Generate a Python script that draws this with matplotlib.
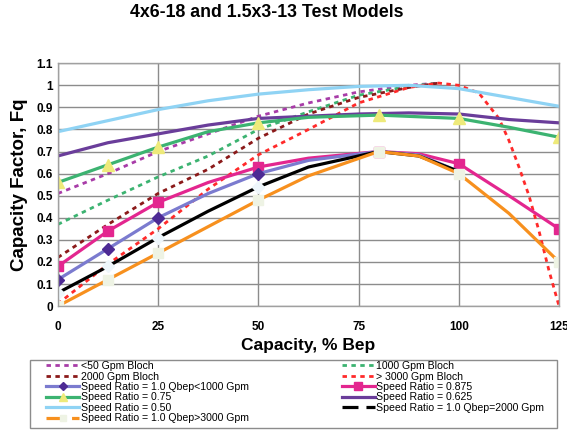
import matplotlib
matplotlib.use("Agg")
import matplotlib.pyplot as plt
from matplotlib.lines import Line2D
from matplotlib.patches import Rectangle

plt.rcParams['font.family'] = ['Liberation Sans', 'DejaVu Sans']

title = "4x6-18 and 1.5x3-13 Test Models"
x_label = "Capacity, % Bep"
y_label = "Capacity Factor, Fq"
x_ticks = [0, 25, 50, 75, 100, 125]
y_ticks = [0, 0.1, 0.2, 0.3, 0.4, 0.5, 0.6, 0.7, 0.8, 0.9, 1.0, 1.1]
y_tick_labels = ["0", "0.1", "0.2", "0.3", "0.4", "0.5", "0.6", "0.7", "0.8", "0.9", "1", "1.1"]

# Bloch curves
bloch_lt50_x = [0, 12.5, 25, 37.5, 50, 62.5, 75, 87.5, 95]
bloch_lt50_y = [0.51, 0.60, 0.70, 0.78, 0.86, 0.92, 0.97, 1.0, 1.01]
bloch_1000_x = [0, 12.5, 25, 37.5, 50, 62.5, 75, 87.5, 95]
bloch_1000_y = [0.37, 0.48, 0.585, 0.68, 0.80, 0.88, 0.955, 0.995, 1.01]
bloch_2000_x = [0, 12.5, 25, 37.5, 50, 62.5, 75, 87.5, 95]
bloch_2000_y = [0.22, 0.37, 0.51, 0.62, 0.76, 0.87, 0.945, 0.99, 1.01]
bloch_gt3000_x = [0, 12.5, 25, 37.5, 50, 62.5, 75, 87.5, 95, 100, 105, 110, 112.5, 115, 117.5, 120, 122.5, 125]
bloch_gt3000_y = [0.01, 0.19, 0.35, 0.53, 0.685, 0.80, 0.92, 0.99, 1.01, 1.0, 0.965, 0.85, 0.75, 0.63, 0.50, 0.34, 0.16, 0.0]

# Speed ratio curves
sr100_lt1000_x = [0, 12.5, 25, 37.5, 50, 62.5, 80, 90, 100]
sr100_lt1000_y = [0.12, 0.26, 0.40, 0.51, 0.60, 0.66, 0.70, 0.685, 0.61]
sr100_lt1000_marks = [0, 1, 2, 4]

sr0875_x = [0, 12.5, 25, 37.5, 50, 62.5, 80, 90, 100, 112.5, 125]
sr0875_y = [0.18, 0.34, 0.47, 0.56, 0.63, 0.67, 0.70, 0.69, 0.645, 0.50, 0.35]
sr0875_marks = [0, 1, 2, 4, 6, 8, 10]

sr075_x = [0, 12.5, 25, 37.5, 50, 62.5, 80, 100, 112.5, 125]
sr075_y = [0.56, 0.64, 0.72, 0.79, 0.83, 0.855, 0.865, 0.85, 0.81, 0.765]
sr075_marks = [0, 1, 2, 4, 6, 7, 9]

sr0625_x = [0, 12.5, 25, 37.5, 50, 62.5, 75, 87.5, 100, 112.5, 125]
sr0625_y = [0.68, 0.74, 0.78, 0.82, 0.85, 0.86, 0.87, 0.875, 0.87, 0.845, 0.83]

sr050_x = [0, 12.5, 25, 37.5, 50, 62.5, 75, 87.5, 100, 112.5, 125]
sr050_y = [0.79, 0.84, 0.89, 0.93, 0.96, 0.98, 0.995, 1.0, 0.985, 0.945, 0.905]

sr100_2000_x = [0, 12.5, 25, 37.5, 50, 62.5, 80, 90, 100]
sr100_2000_y = [0.06, 0.18, 0.31, 0.43, 0.54, 0.63, 0.70, 0.68, 0.61]
sr100_2000_marks = [0, 1, 2, 4]

sr100_gt3000_x = [0, 12.5, 25, 37.5, 50, 62.5, 80, 90, 100, 112.5, 125]
sr100_gt3000_y = [0.0, 0.12, 0.24, 0.36, 0.48, 0.59, 0.70, 0.68, 0.60, 0.42, 0.20]
sr100_gt3000_marks = [0, 1, 2, 4, 6, 8, 10]

fig = plt.figure(figsize=(5.67, 4.33), dpi=100)
ax = fig.add_axes([0.102, 0.293, 0.884, 0.561])

dot = (0, (1.6, 1.6))
lw = 2.0

h = {}
h['lt50'], = ax.plot(bloch_lt50_x, bloch_lt50_y, color='#a83ca8', lw=lw, ls=dot, label='<50 Gpm Bloch')
h['b1000'], = ax.plot(bloch_1000_x, bloch_1000_y, color='#3cb371', lw=lw, ls=dot, label='1000 Gpm Bloch')
h['b2000'], = ax.plot(bloch_2000_x, bloch_2000_y, color='#8b1a1a', lw=lw, ls=dot, label='2000 Gpm Bloch')
h['b3000'], = ax.plot(bloch_gt3000_x, bloch_gt3000_y, color='#ff2a2a', lw=lw, ls=dot, label='> 3000 Gpm Bloch')

h['sr050'], = ax.plot(sr050_x, sr050_y, color='#8fd3f4', lw=2.3, label='Speed Ratio = 0.50')
h['sr0625'], = ax.plot(sr0625_x, sr0625_y, color='#6a3d9a', lw=2.3, label='Speed Ratio = 0.625')
h['sr075'], = ax.plot(sr075_x, sr075_y, color='#3cb371', lw=2.3, marker='^', ms=8,
                      mfc='#eeea7a', mec='#eeea7a', markevery=sr075_marks, label='Speed Ratio = 0.75')
h['sr0875'], = ax.plot(sr0875_x, sr0875_y, color='#e3268f', lw=2.3, marker='s', ms=7,
                       mfc='#e3268f', mec='#e3268f', markevery=sr0875_marks, label='Speed Ratio = 0.875')
h['sr1a'], = ax.plot(sr100_lt1000_x, sr100_lt1000_y, color='#7b7bcf', lw=2.3, marker='D', ms=6,
                     mfc='#4d2a94', mec='#4d2a94', markevery=sr100_lt1000_marks,
                     label='Speed Ratio = 1.0 Qbep<1000 Gpm')
h['sr1b'], = ax.plot(sr100_2000_x, sr100_2000_y, color='black', lw=2.3, marker='D', ms=6,
                     mfc='#eef6fb', mec='#eef6fb', markevery=sr100_2000_marks,
                     label='Speed Ratio = 1.0 Qbep=2000 Gpm')
h['sr1c'], = ax.plot(sr100_gt3000_x, sr100_gt3000_y, color='#f7901e', lw=2.3, marker='s', ms=7,
                     mfc='#eef3e4', mec='#eef3e4', markevery=sr100_gt3000_marks,
                     label='Speed Ratio = 1.0 Qbep>3000 Gpm')

ax.set_xlim(0, 125)
ax.set_ylim(0, 1.1)
ax.set_xticks(x_ticks)
ax.set_yticks(y_ticks)
ax.set_yticklabels(y_tick_labels)
ax.tick_params(axis='both', length=0, labelsize=8.5)
ax.tick_params(axis='x', pad=11)
for lab in ax.get_xticklabels() + ax.get_yticklabels():
    lab.set_fontweight('bold')
ax.grid(True, color='#8c8c8c', lw=1.0)
ax.set_axisbelow(True)
for s in ax.spines.values():
    s.set_color('#a0a0a0')
    s.set_linewidth(1.0)

ax.set_xlabel(x_label, fontsize=12.5, fontweight='bold', labelpad=3)
ax.set_ylabel(y_label, fontsize=13.5, fontweight='bold', labelpad=6)
fig.text(0.471, 0.97, title, ha='center', va='center', fontsize=12.8, fontweight='bold')

# Legend keys: the black curve is keyed with dashes, the orange one with dashes and a marker
black_key = Line2D([], [], color='black', lw=2.3, ls=(0, (5, 2.5)), label='Speed Ratio = 1.0 Qbep=2000 Gpm')
orange_key = Line2D([], [], color='#f7901e', lw=2.3, ls=(0, (6, 2)), marker='s', ms=6,
                    mfc='#eef3e4', mec='#eef3e4', label='Speed Ratio = 1.0 Qbep>3000 Gpm')

left_col = [h['lt50'], h['b2000'], h['sr1a'], h['sr075'], h['sr050'], orange_key]
right_col = [h['b1000'], h['b3000'], h['sr0875'], h['sr0625'], black_key]

# Shared frame around both legend columns
fig.patches.append(Rectangle((0.053, 0.0115), 0.929, 0.157, transform=fig.transFigure,
                             fill=False, edgecolor='#8c8c8c', lw=1.0))

leg_kw = dict(loc='upper left', fontsize=7.6, frameon=False, handlelength=3.1,
              handletextpad=0.15, labelspacing=0.04, borderpad=0.0, borderaxespad=0,
              markerscale=0.75)
fig.legend(handles=left_col, bbox_to_anchor=(0.082, 0.166), **leg_kw)
fig.legend(handles=right_col, bbox_to_anchor=(0.603, 0.166), **leg_kw)

fig.savefig('out.png', dpi=100)
